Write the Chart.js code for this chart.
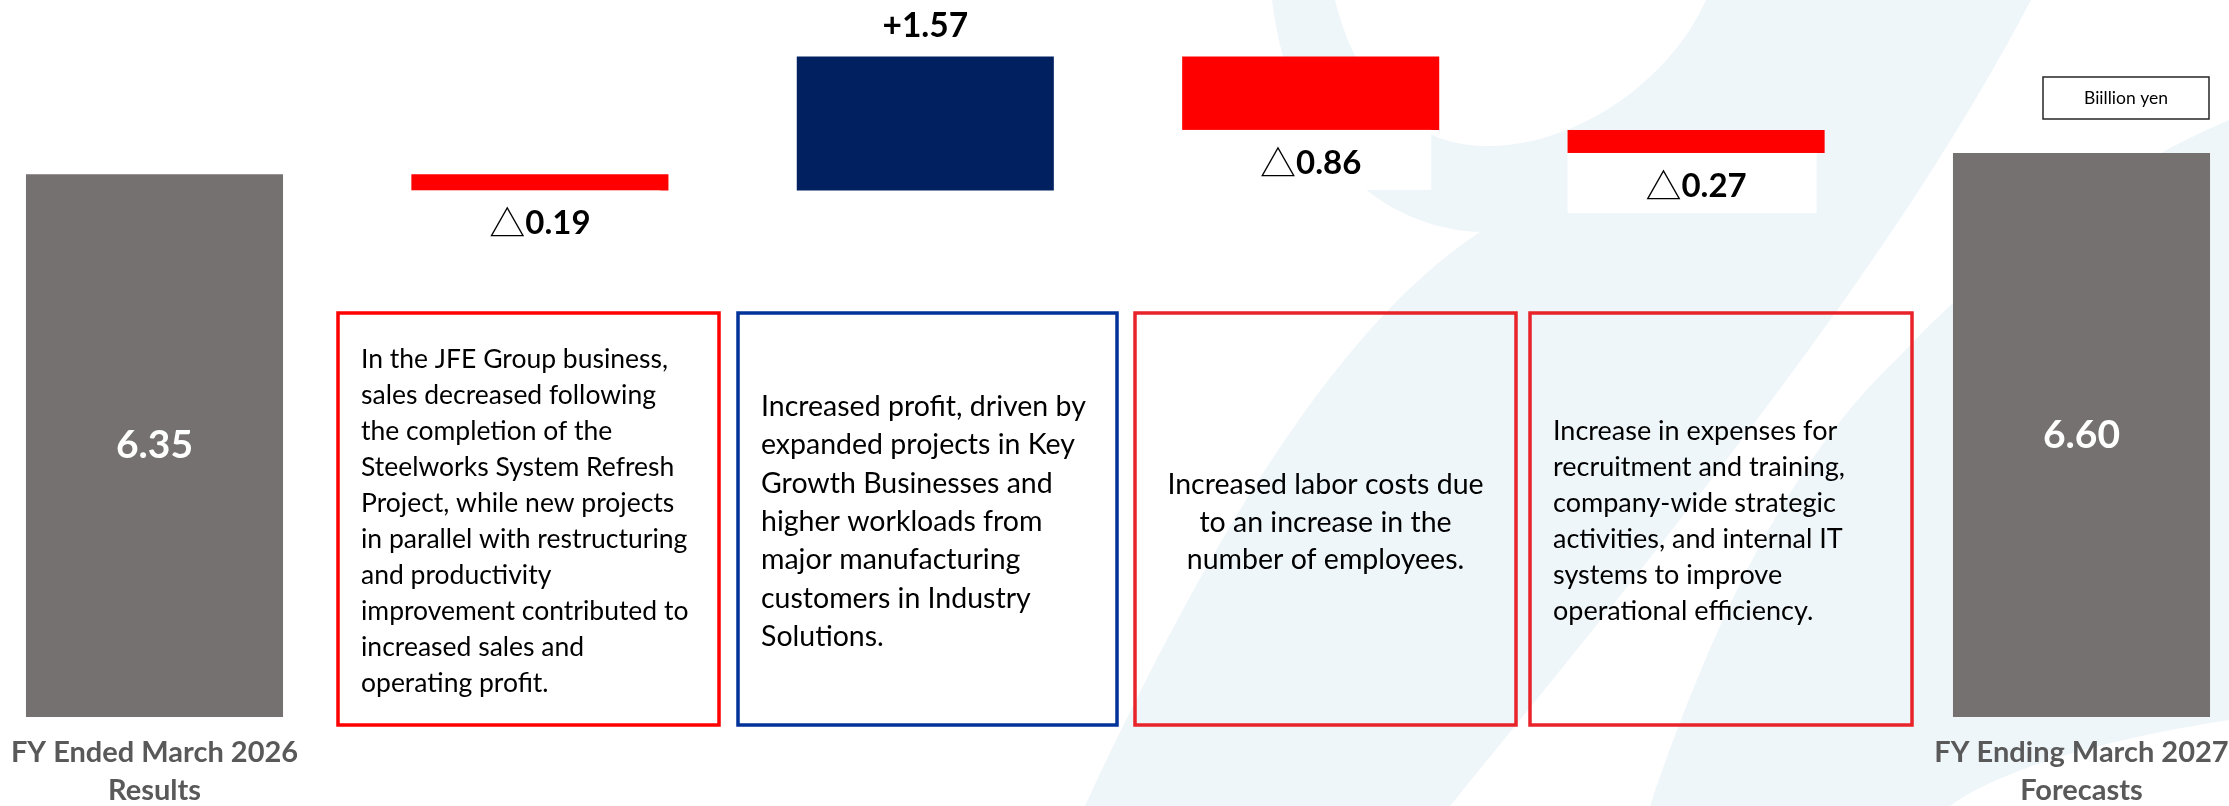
<!DOCTYPE html>
<html>
<head>
<meta charset="utf-8">
<script src="https://cdn.jsdelivr.net/npm/chart.js@4.4.1/dist/chart.umd.min.js"></script>
<style>
  html, body { margin: 0; padding: 0; background: #fff; }
  #wrap { width: 2229px; height: 806px; }
</style>
</head>
<body>
<div id="wrap"><canvas id="chartProfit" width="2229" height="806"></canvas></div>
<script>
// categories and values (billion yen)
const categories = ['FY Ended March 2026 Results', 'JFE Group business', 'Key Growth Businesses', 'Labor costs', 'Expenses', 'FY Ending March 2027 Forecasts'];
const axisLabels = [['FY Ended March 2026', 'Results'], '', '', '', '', ['FY Ending March 2027', 'Forecasts']];
const startValue = 6.35;
const changes = [-0.19, 1.57, -0.86, -0.27];
const endValue = 6.60;
const valueLabels = ['6.35', '0.19', '+1.57', '0.86', '0.27', '6.60'];
const unitLabel = 'Biillion yen';

const notes = [
    ['In the JFE Group business,', 'sales decreased following', 'the completion of the', 'Steelworks System Refresh', 'Project, while new projects', 'in parallel with restructuring', 'and productivity', 'improvement contributed to', 'increased sales and', 'operating profit.'],
    ['Increased profit, driven by', 'expanded projects in Key', 'Growth Businesses and', 'higher workloads from', 'major manufacturing', 'customers in Industry', 'Solutions.'],
    ['Increased labor costs due', 'to an increase in the', 'number of employees.'],
    ['Increase in expenses for', 'recruitment and training,', 'company-wide strategic', 'activities, and internal IT', 'systems to improve', 'operational efficiency.']
];

// waterfall: floating bars built from the values above
const floating = [[0, startValue]];
let running = startValue;
changes.forEach(d => {
    floating.push([running, running + d]);
    running += d;
});
floating.push([0, endValue]);

const GRAY = '#767171';
const colors = [GRAY, ...changes.map(d => d >= 0 ? '#002060' : '#FF0000'), GRAY];

// note boxes: [left, top, right, bottom, border colour, font size, first line y, line step, align]
const boxStyle = [
    [338, 313, 719, 725, '#FF0000', 26.5, 359, 36, 'left'],
    [738, 313, 1117, 725, '#003399', 28.5, 407, 38.3, 'left'],
    [1135, 313, 1516, 725, '#E8232A', 28.5, 485, 37.5, 'center'],
    [1530, 313, 1912, 725, '#E8232A', 27, 431, 36, 'left']
];

const backgroundPlugin = {
    id: 'background',
    beforeDraw(chart) {
        const ctx = chart.ctx;
        ctx.save();
        ctx.fillStyle = '#FFFFFF';
        ctx.fillRect(0, 0, chart.width, chart.height);
        // faint logo in the background
        ctx.fillStyle = '#EFF6FA';
        ctx.beginPath();
        ctx.moveTo(1272, 0);
        ctx.lineTo(1335, 0);
        ctx.bezierCurveTo(1360, 100, 1420, 148, 1491, 146);
        ctx.bezierCurveTo(1580, 144, 1670, 80, 1706, 0);
        ctx.lineTo(2031, 0);
        ctx.bezierCurveTo(1900, 250, 1700, 500, 1450, 806);
        ctx.lineTo(1085, 806);
        ctx.bezierCurveTo(1200, 560, 1330, 330, 1480, 232);
        ctx.bezierCurveTo(1380, 228, 1290, 150, 1272, 0);
        ctx.closePath();
        ctx.fill();
        ctx.beginPath();
        ctx.moveTo(1650, 806);
        ctx.bezierCurveTo(1720, 600, 1800, 450, 1896, 360);
        ctx.bezierCurveTo(1980, 270, 2090, 180, 2229, 120);
        ctx.lineTo(2229, 720);
        ctx.bezierCurveTo(2100, 740, 2000, 770, 1950, 806);
        ctx.closePath();
        ctx.fill();
        ctx.restore();
    }
};

// "△" prefix drawn in a CJK font, digits in bold
function drawDelta(ctx, text, x, y) {
    ctx.font = 'bold 33px Lato';
    const wNum = ctx.measureText(text).width;
    ctx.font = '36px "Noto Sans CJK JP"';
    const wTri = ctx.measureText('△').width;
    const start = x - (wNum + wTri) / 2;
    ctx.textAlign = 'left';
    ctx.fillText('△', start, y);
    ctx.font = 'bold 33px Lato';
    ctx.fillText(text, start + wTri, y);
    ctx.textAlign = 'center';
}

const labelPlugin = {
    id: 'labels',
    afterDatasetsDraw(chart) {
        const ctx = chart.ctx;
        const bars = chart.getDatasetMeta(0).data;
        ctx.save();
        ctx.textAlign = 'center';
        ctx.textBaseline = 'middle';
        bars.forEach((bar, i) => {
            const top = Math.min(bar.y, bar.base);
            const bottom = Math.max(bar.y, bar.base);
            if (i === 0 || i === bars.length - 1) {
                ctx.fillStyle = '#FFFFFF';
                ctx.font = 'bold 39px Lato';
                ctx.fillText(valueLabels[i], bar.x, (top + bottom) / 2);
            } else if (changes[i - 1] >= 0) {
                ctx.fillStyle = '#000000';
                ctx.font = 'bold 33.5px Lato';
                ctx.fillText(valueLabels[i], bar.x, top - 30);
            } else {
                ctx.fillStyle = '#FFFFFF';
                ctx.fillRect(bar.x - bar.width / 2, bottom, bar.width - 8, 60);
                ctx.fillStyle = '#000000';
                drawDelta(ctx, valueLabels[i], bar.x, bottom + 33);
            }
        });

        // explanation boxes
        boxStyle.forEach((b, k) => {
            const [l, t, r, btm, col, size, y0, step, align] = b;
            ctx.strokeStyle = col;
            ctx.lineWidth = 3.5;
            ctx.strokeRect(l, t, r - l, btm - t);
            ctx.fillStyle = '#000000';
            ctx.font = size + 'px Lato';
            ctx.textAlign = align;
            const x = align === 'center' ? (l + r) / 2 : l + 23;
            notes[k].forEach((line, j) => ctx.fillText(line, x, y0 + j * step));
        });

        // unit box
        ctx.strokeStyle = '#262626';
        ctx.lineWidth = 1.5;
        ctx.strokeRect(2043, 77, 166, 42);
        ctx.fillStyle = '#000000';
        ctx.font = '17.5px Lato';
        ctx.textAlign = 'center';
        ctx.fillText(unitLabel, 2126, 98);
        ctx.restore();
    }
};

const ctx = document.getElementById('chartProfit');

let chart = new Chart(ctx, {
    type: 'bar',
    data: {
        labels: axisLabels,
        datasets: [{
            label: 'Operating profit',
            data: floating,
            backgroundColor: colors,
            borderWidth: 0,
            barPercentage: 0.667,
            categoryPercentage: 1,
            clip: false
        }]
    },
    options: {
        responsive: false,
        animation: false,
        devicePixelRatio: 1,
        layout: {
            padding: { left: 154.5, right: 147.5, top: 0, bottom: 0 }
        },
        plugins: {
            legend: { display: false },
            tooltip: { enabled: false }
        },
        scales: {
            x: {
                offset: false,
                grid: { display: false, drawTicks: false },
                border: { display: false },
                ticks: {
                    color: '#595959',
                    autoSkip: false,
                    maxRotation: 0,
                    padding: 17,
                    font: { family: 'Lato', size: 29, weight: 'bold', lineHeight: 1.31 }
                },
                afterFit(scale) {
                    scale.height = 89;
                    scale.paddingLeft = 0;
                    scale.paddingRight = 0;
                }
            },
            y: {
                display: false,
                min: 0,
                max: 8.39
            }
        }
    },
    plugins: [backgroundPlugin, labelPlugin]
});
</script>
</body>
</html>
